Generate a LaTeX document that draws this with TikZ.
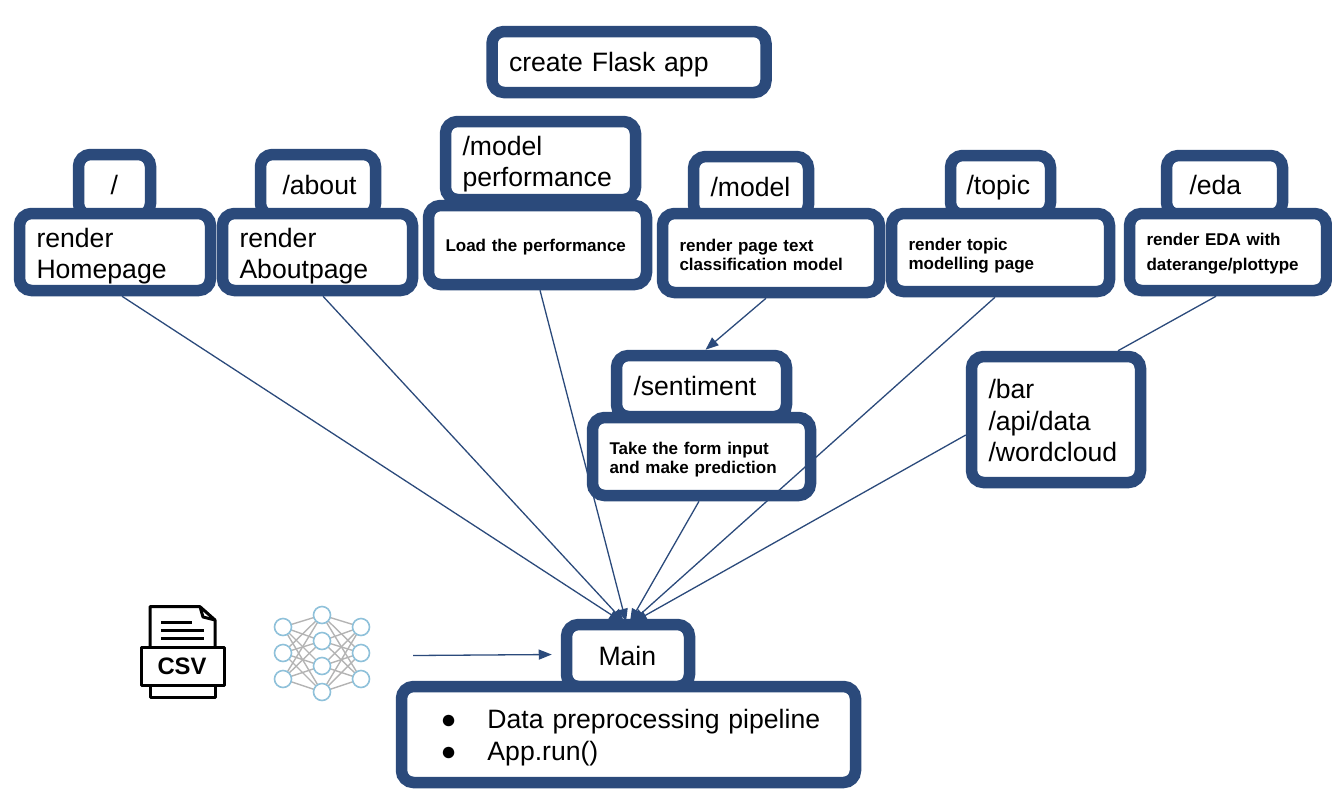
\documentclass[tikz,border=0pt]{standalone}
\usepackage{fontspec}
\setmainfont[WordSpace=0.6]{Liberation Sans}
\usetikzlibrary{arrows.meta,backgrounds}
\definecolor{boxblue}{HTML}{2B4A7B}
\definecolor{netblue}{HTML}{8FC1DA}
\definecolor{netgray}{HTML}{B4B4B4}
\begin{document}
\begin{tikzpicture}[
  x=1pt, y=-1pt,
  flowbox/.style={rectangle, draw=boxblue, fill=white, line width=11.5pt, rounded corners=12pt,
    align=left, inner ysep=0pt, inner xsep=17pt, font=\fontsize{26.6}{31.5}\selectfont},
  smalltext/.style={font=\fontsize{17}{18.7}\selectfont\bfseries},
  nudge/.style={execute at end node={\vspace*{-#1}}},
  link/.style={draw=boxblue, line width=1.3pt, -{Triangle[length=13pt,width=10pt]}},
  plain/.style={draw=boxblue, line width=1.3pt},
  neuron/.style={circle, draw=netblue, fill=white, line width=1.6pt, minimum size=17pt, inner sep=0pt},
  icon/.style={draw=black, line width=3pt, line join=round}
]
  \useasboundingbox (0,0) rectangle (1332,796);

  \node[flowbox, nudge=10pt, text width=240pt, minimum height=61pt] (flask) at (629,62) {create Flask app};

  \node[flowbox, nudge=2pt, text width=40pt, minimum height=61pt, inner xsep=16pt] (rootroute) at (114.5,185) {\hspace*{16pt}/};
  \node[flowbox, nudge=8pt, text width=157pt, minimum height=77pt] (home) at (115,252) {render\\Homepage};

  \node[flowbox, nudge=2pt, text width=93pt, minimum height=61pt, inner xsep=11pt] (aboutroute) at (318,185) {\hspace*{11pt}/about};
  \node[flowbox, nudge=8pt, text width=156pt, minimum height=77pt] (about) at (317.5,252) {render\\Aboutpage};

  \node[flowbox, nudge=7pt, text width=156pt, minimum height=78pt] (perfroute) at (540.5,160.5) {/model\\performance};
  \node[flowbox, nudge=6pt, text width=184pt, minimum height=79pt, smalltext] (perf) at (537.5,245) {Load the performance};

  \node[flowbox, nudge=4pt, text width=81pt, minimum height=60pt] (modelroute) at (751,186.5) {/model};
  \node[flowbox, nudge=4pt, text width=183pt, minimum height=79pt, smalltext] (model) at (771,253) {render page text\\classification model};

  \node[flowbox, nudge=10pt, text width=68pt, minimum height=59pt, inner xsep=16pt] (topicroute) at (1000.5,185) {/topic};
  \node[flowbox, nudge=6pt, text width=184pt, minimum height=78pt, smalltext] (topic) at (1000.5,252.5) {render topic\\modelling page};

  \node[flowbox, nudge=2pt, text width=82pt, minimum height=59pt] (edaroute) at (1224.5,185) {\hspace*{6pt}/eda};
  \node[flowbox, nudge=4pt, text width=163pt, minimum height=77pt, font=\fontsize{17}{25}\selectfont\bfseries] (eda) at (1228,252) {render EDA with\\daterange/plottype};

  \node[flowbox, nudge=2pt, text width=136pt, minimum height=61pt] (sentroute) at (701.5,386) {/sentiment};
  \node[flowbox, nudge=6pt, text width=184pt, minimum height=78pt, smalltext] (sent) at (701.5,456.5) {Take the form input\\and make prediction};

  \node[flowbox, nudge=2pt, text width=135pt, minimum height=126pt] (charts) at (1056,419.5) {/bar\\/api/data\\/wordcloud};

  \node[flowbox, nudge=2pt, text width=101pt, minimum height=62pt, inner xsep=11pt] (main) at (628,655.5) {\hspace*{21pt}Main};
  \node[flowbox, nudge=6pt, text width=394pt, minimum height=96pt, inner xsep=30pt] (setup) at (628.5,734.5) {\hspace*{9pt}\makebox[47pt][l]{●}Data preprocessing pipeline\\\hspace*{9pt}\makebox[47pt][l]{●}App.run()};

  % csv file icon
  \draw[icon] (150,647) -- (150,606.7) -- (200,606.7) -- (215,620) -- (215,647);
  \draw[icon] (200,606.7) -- (203,617) -- (215,620);
  \draw[icon] (161,622.7) -- (192,622.7) (161,630.7) -- (204,630.7) (161,638) -- (204,638);
  \draw[icon] (150,685) -- (150,697) -- (215,697) -- (215,685);
  \draw[icon] (141,647) rectangle (224,685);
  \node[font=\fontsize{23.8}{26}\selectfont\bfseries, inner sep=0pt] (csv) at (182,666) {CSV};

  % network icon
  \foreach \i/\y in {1/627,2/653,3/679} {
    \node[neuron] (l\i) at (283,\y) {};
    \node[neuron] (r\i) at (361,\y) {};
  }
  \foreach \i/\y in {1/615,2/641,3/666,4/692} {
    \node[neuron] (m\i) at (322,\y) {};
  }
  \begin{scope}[on background layer]
  \foreach \i in {1,2,3} {
    \foreach \j in {1,2,3,4} {
      \draw[netgray, line width=1.4pt] (l\i.center) -- (m\j.center);
      \draw[netgray, line width=1.4pt] (r\i.center) -- (m\j.center);
    }
  }
  \end{scope}

  \coordinate (netout) at (413,655.5);
  \draw[link] (netout) -- ([xshift=-9pt,yshift=1pt]main.west);

  \draw[link] ([xshift=7pt]home.south) -- ([xshift=-6pt,yshift=-3pt]main.north);
  \draw[link] ([xshift=5.5pt]about.south) -- ([xshift=-4pt,yshift=-3pt]main.north);
  \draw[link] ([xshift=2.5pt]perf.south) -- ([xshift=-2pt,yshift=-3pt]main.north);
  \draw[link] ([xshift=-2.5pt]sent.south) -- ([xshift=2pt,yshift=-3pt]main.north);
  \draw[link] ([xshift=-5.5pt]topic.south) -- ([xshift=4pt,yshift=-3pt]main.north);
  \draw[link] ([yshift=-15.5pt]charts.west) -- ([xshift=6pt,yshift=-3pt]main.north);
  \draw[link] ([xshift=-5pt]model.south) -- ([xshift=4pt]sentroute.north);
  \draw[plain] ([xshift=-12pt]eda.south) -- ([xshift=62pt]charts.north);
\end{tikzpicture}
\end{document}
